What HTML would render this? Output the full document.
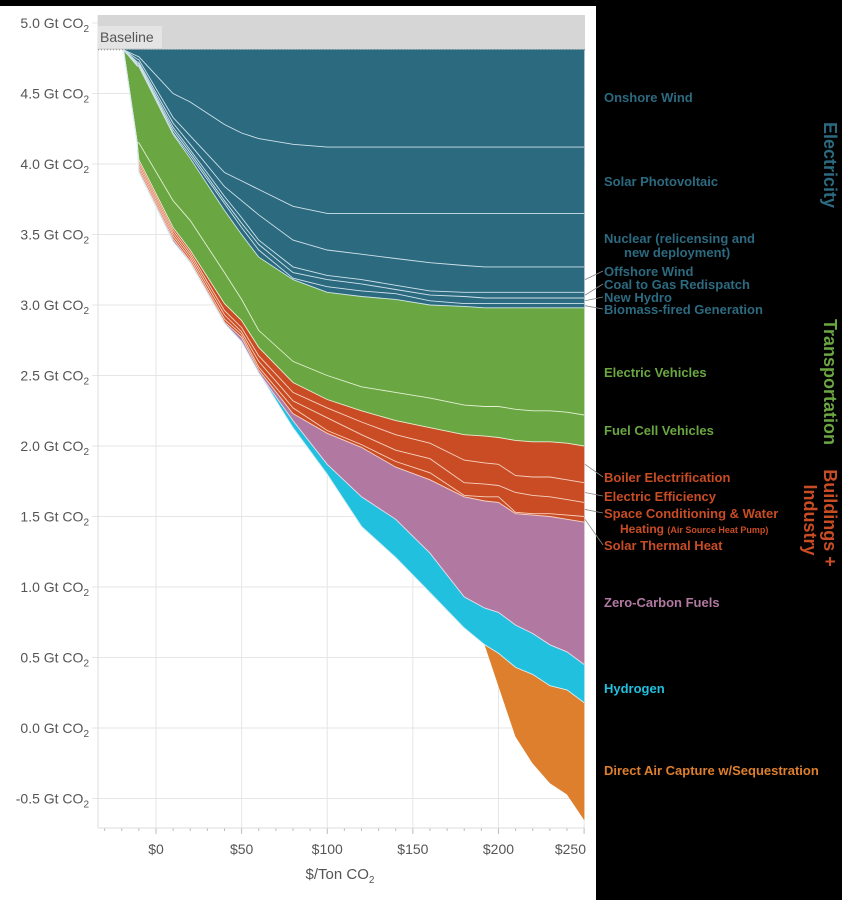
<!DOCTYPE html>
<html><head><meta charset="utf-8">
<style>
html,body{margin:0;padding:0;background:#000;width:842px;height:900px;overflow:hidden}
svg{display:block}
text{font-family:"Liberation Sans",sans-serif}
</style></head>
<body>
<svg id="chart" width="842" height="900" xmlns="http://www.w3.org/2000/svg"></svg>
<script>
// ---- data ----
const prices = [-19,-11,-10,10,20,40,50,60,80,100,120,140,160,180,192,200,210,220,230,240,250];
const baselineValue = 4.81;
const onshoreWind   = [4.81,4.765,4.76,4.50,4.44,4.28,4.22,4.18,4.14,4.12,4.12,4.12,4.12,4.12,4.12,4.12,4.12,4.12,4.12,4.12,4.12];
const solarPV       = [4.81,4.745,4.74,4.33,4.20,3.94,3.88,3.82,3.70,3.65,3.65,3.65,3.65,3.65,3.65,3.65,3.65,3.65,3.65,3.65,3.65];
const nuclear       = [4.81,4.725,4.72,4.29,4.14,3.84,3.74,3.64,3.46,3.39,3.36,3.33,3.30,3.28,3.27,3.27,3.27,3.27,3.27,3.27,3.27];
const offshoreWind  = [4.81,4.715,4.71,4.26,4.10,3.77,3.62,3.46,3.27,3.21,3.18,3.14,3.10,3.09,3.09,3.09,3.09,3.09,3.09,3.09,3.09];
const coalToGas     = [4.81,4.705,4.70,4.24,4.08,3.74,3.58,3.43,3.23,3.18,3.15,3.11,3.07,3.06,3.05,3.05,3.05,3.05,3.05,3.05,3.05];
const newHydro      = [4.81,4.70,4.70,4.22,4.06,3.72,3.55,3.39,3.19,3.13,3.10,3.08,3.03,3.01,3.01,3.01,3.01,3.01,3.01,3.01,3.01];
const biomass       = [4.81,4.695,4.69,4.21,4.04,3.67,3.50,3.34,3.18,3.09,3.06,3.04,3.00,2.99,2.98,2.98,2.98,2.98,2.98,2.98,2.98];
const electricVeh   = [4.81,4.15,4.15,3.74,3.60,3.23,3.04,2.82,2.60,2.50,2.42,2.38,2.34,2.29,2.28,2.28,2.26,2.25,2.25,2.24,2.22];
const fuelCellVeh   = [4.81,4.15,4.03,3.55,3.39,3.01,2.89,2.70,2.45,2.33,2.25,2.18,2.13,2.08,2.07,2.06,2.04,2.03,2.03,2.02,2.00];
const boilerElec    = [4.81,4.15,4.01,3.53,3.37,2.96,2.84,2.64,2.38,2.27,2.17,2.08,2.02,1.90,1.88,1.87,1.79,1.78,1.78,1.76,1.74];
const elecEff       = [4.81,4.15,3.99,3.51,3.35,2.93,2.81,2.60,2.32,2.20,2.08,1.97,1.91,1.74,1.73,1.72,1.67,1.65,1.64,1.62,1.60];
const spaceCond     = [4.81,4.15,3.97,3.49,3.33,2.90,2.79,2.56,2.27,2.11,2.01,1.89,1.81,1.65,1.64,1.64,1.53,1.52,1.52,1.51,1.50];
const solarThermal  = [4.81,4.15,3.95,3.47,3.31,2.88,2.77,2.54,2.23,2.09,1.99,1.85,1.76,1.64,1.61,1.60,1.52,1.51,1.50,1.48,1.46];
const zeroCarbon    = [4.81,4.15,3.94,3.45,3.30,2.87,2.74,2.52,2.18,1.87,1.64,1.48,1.24,0.93,0.85,0.82,0.73,0.67,0.59,0.54,0.45];
const hydrogen      = [4.81,4.15,3.94,3.45,3.30,2.87,2.74,2.52,2.13,1.80,1.43,1.21,0.96,0.71,0.59,0.53,0.43,0.38,0.30,0.27,0.18];
const directAir     = [4.81,4.15,3.94,3.45,3.30,2.87,2.74,2.52,2.13,1.80,1.43,1.21,0.96,0.71,0.59,0.30,-0.06,-0.25,-0.39,-0.47,-0.65];
const yTicks = [5.0,4.5,4.0,3.5,3.0,2.5,2.0,1.5,1.0,0.5,0.0,-0.5];
const xTicks = [0,50,100,150,200,250];

// ---- scales ----
const X = p => 156 + (p)*1.7124;
const Y = v => 728 - v*141;
const NS = "http://www.w3.org/2000/svg";
const svg = document.getElementById('chart');
function mk(tag, attrs, parent){const e=document.createElementNS(NS,tag);for(const k in attrs)e.setAttribute(k,attrs[k]);(parent||svg).appendChild(e);return e;}

// panel
let panel = mk('rect',{x:0,y:6,width:596,height:894,fill:'#fff'});



// gridlines
yTicks.forEach(v=>{
  const g = mk('line',{x1:92,x2:585,y1:Y(v),y2:Y(v),stroke:'#e6e6e6','stroke-width':1});
  
  
  const t = mk('text',{x:89,y:Y(v)+5,'text-anchor':'end','font-size':14,fill:'#555'});
  
  
  t.innerHTML = v.toFixed(1)+' Gt CO<tspan font-size="10" dy="4">2</tspan>';
});
xTicks.forEach((p,i)=>{
  const g = mk('line',{x1:X(p),x2:X(p),y1:15,y2:828,stroke:'#e6e6e6','stroke-width':1});
  
  
  const last = i===xTicks.length-1;
  const t = mk('text',{x:last?586:X(p),y:854,'text-anchor':last?'end':'middle','font-size':14,fill:'#555'});
  
  
  t.textContent = '$'+p;
});
for(let p=-30;p<=250;p+=10){
  const tk = mk('line',{x1:X(p),x2:X(p),y1:828,y2:p%50===0?834:831,stroke:'#bbb'});
  
  
}
let axl = mk('line',{x1:98,x2:98,y1:15,y2:828,stroke:'#ddd'});


let axb = mk('line',{x1:98,x2:585,y1:828,y2:828,stroke:'#ddd'});



// baseline band
let band = mk('rect',{x:98,y:15,width:487,height:Y(baselineValue)-15,fill:'#d6d6d6'});


let bl = mk('line',{x1:98,x2:585,y1:Y(baselineValue),y2:Y(baselineValue),stroke:'#888','stroke-dasharray':'1,2'});


let blbg = mk('rect',{x:98,y:26,width:64,height:22,fill:'#e4e4e4'});


let blt = mk('text',{x:100,y:42,'font-size':14,fill:'#555'});


blt.textContent='Baseline';

// areas
const top0 = prices.map(()=>baselineValue);
const layers = [
 ['onshore-wind',onshoreWind,'#2c6a80','#cfe3ea'],
 ['solar-pv',solarPV,'#2c6a80','#cfe3ea'],
 ['nuclear',nuclear,'#2c6a80','#cfe3ea'],
 ['offshore-wind',offshoreWind,'#2c6a80','#cfe3ea'],
 ['coal-to-gas',coalToGas,'#2c6a80','#cfe3ea'],
 ['new-hydro',newHydro,'#2c6a80','#cfe3ea'],
 ['biomass',biomass,'#2c6a80','#cfe3ea'],
 ['electric-vehicles',electricVeh,'#6aa641','#e3f0d2'],
 ['fuel-cell-vehicles',fuelCellVeh,'#6aa641','#e3f0d2'],
 ['boiler-electrification',boilerElec,'#c94c24','#f6d2c2'],
 ['electric-efficiency',elecEff,'#c94c24','#f6d2c2'],
 ['space-conditioning',spaceCond,'#c94c24','#f6d2c2'],
 ['solar-thermal',solarThermal,'#c94c24','#f6d2c2'],
 ['zero-carbon-fuels',zeroCarbon,'#b179a2','#f1dcea'],
 ['hydrogen',hydrogen,'#22c0df','#d2f1f8'],
 ['direct-air-capture',directAir,'#de7f2e','#f8dcc3']
];
let upper = top0;
layers.forEach(([name,lower,fill,stroke])=>{
  let d='M'+prices.map((p,i)=>X(p).toFixed(1)+','+Y(upper[i]).toFixed(1)).join('L');
  for(let i=prices.length-1;i>=0;i--) d+='L'+X(prices[i]).toFixed(1)+','+Y(lower[i]).toFixed(1);
  d+='Z';
  const a = mk('path',{d:d,fill:fill,stroke:fill,'stroke-width':0.5});
  
  
  upper = lower;
});
layers.slice(0,15).forEach(([name,lower,fill,stroke])=>{
  const d='M'+prices.map((p,i)=>X(p).toFixed(1)+','+Y(lower[i]).toFixed(1)).join('L');
  const l = mk('path',{d:d,fill:'none',stroke:stroke,'stroke-width':0.9});
  
  
});

// x title
let xt = mk('text',{x:340,y:879,'text-anchor':'middle','font-size':15,fill:'#555'});


xt.innerHTML='$/Ton CO<tspan font-size="10" dy="4">2</tspan>';

// labels
const labels = [
 ['Onshore Wind',97,'#2c6a80',null],
 ['Solar Photovoltaic',181,'#2c6a80',null],
 ['Nuclear (relicensing and',238,'#2c6a80',null],
 ['new deployment)',252,'#2c6a80',null,20],
 ['Offshore Wind',271,'#2c6a80',Y(offshoreWind[offshoreWind.length-1])+Y(nuclear[nuclear.length-1])],
 ['Coal to Gas Redispatch',284,'#2c6a80',Y(coalToGas[20])+Y(offshoreWind[20])],
 ['New Hydro',297,'#2c6a80',Y(newHydro[20])+Y(coalToGas[20])],
 ['Biomass-fired Generation',309,'#2c6a80',Y(biomass[20])+Y(newHydro[20])],
 ['Electric Vehicles',372,'#6aa641',null],
 ['Fuel Cell Vehicles',430,'#6aa641',null],
 ['Boiler Electrification',477,'#c94c24',Y(boilerElec[20])+Y(fuelCellVeh[20])],
 ['Electric Efficiency',496,'#c94c24',Y(elecEff[20])+Y(boilerElec[20])],
 ['Space Conditioning & Water',513,'#c94c24',Y(spaceCond[20])+Y(elecEff[20])],
 ['Solar Thermal Heat',545,'#c94c24',Y(solarThermal[20])+Y(spaceCond[20])],
 ['Zero-Carbon Fuels',602,'#b179a2',null],
 ['Hydrogen',688,'#22c0df',null],
 ['Direct Air Capture w/Sequestration',770,'#de7f2e',null]
];
labels.forEach(([txt,y,c,lead,indent])=>{
  const t = mk('text',{x:604+(indent||0),y:y+5,'font-size':13,'font-weight':'bold',fill:c});
  
  
  t.textContent=txt;
  if(lead){
    const ln = mk('line',{x1:585,y1:lead/2,x2:603,y2:y,stroke:'#888','stroke-width':0.8});
    
    
  }
});
let sub = mk('text',{x:620,y:533,'font-size':12,'font-weight':'bold',fill:'#c94c24'});


sub.innerHTML='Heating <tspan font-size="9">(Air Source Heat Pump)</tspan>';

// group titles
const groups=[['Electricity',824,165,'#2c6a80'],['Transportation',824,382,'#6aa641'],['Buildings +',824,518,'#c94c24'],['Industry',804,520,'#c94c24']];
groups.forEach(([txt,x,y,c])=>{
  const t = mk('text',{x:x,y:y,'font-size':18,'font-weight':'bold',fill:c,'text-anchor':'middle',transform:'rotate(90 '+x+' '+y+')'});
  
  
  t.textContent=txt;
});
</script>
</body></html>
